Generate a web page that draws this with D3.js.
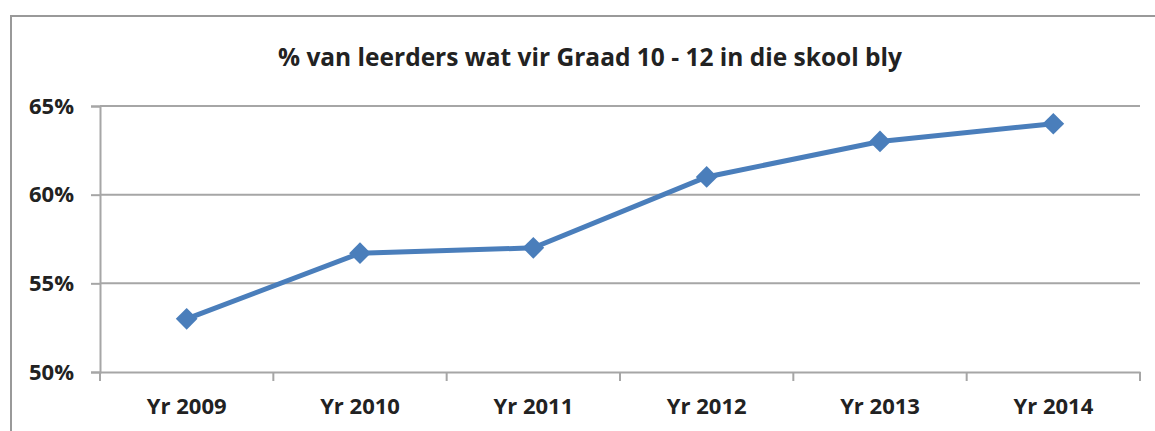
<!DOCTYPE html>
<html>
<head>
<meta charset="utf-8">
<script src="https://cdn.jsdelivr.net/npm/d3@7"></script>
<style>
body { margin:0; background:#fff; }
svg { display:block; font-family:"Open Sans", sans-serif; }
</style>
</head>
<body>
<div id="chart"></div>
<script>
var years = ['Yr 2009','Yr 2010','Yr 2011','Yr 2012','Yr 2013','Yr 2014']
var values = [53, 56.7, 57, 61, 63, 64]
var yTicks = [50, 55, 60, 65]
var title = '% van leerders wat vir Graad 10 - 12 in die skool bly'

var wd = 1155, ht = 431
var svg = d3.select('#chart').append('svg').attr('width',wd).attr('height',ht)

// chart frame
svg.append('rect').attr('x',11).attr('y',16).attr('width',1160).attr('height',440)
	.style('fill','none').style('stroke','#999').style('stroke-width',2)

var x = d3.scaleBand().domain(years).range([100,1140])
var y = d3.scaleLinear().domain([50,65]).range([372,106])

// gridlines
svg.append('g').selectAll('line').data(yTicks.slice(1)).join('line')
	.attr('x1',100).attr('x2',1140)
	.attr('y1',function(d){return y(d)}).attr('y2',function(d){return y(d)})
	.style('stroke','#a6a6a6').style('stroke-width',2)

var yAxis = svg.append('g').attr('transform','translate(100,0)')
	.call(d3.axisLeft(y).tickValues(yTicks).tickSize(9).tickPadding(17).tickFormat(function(d){return d+'%'}))
var xAxis = svg.append('g').attr('transform','translate(0,372)')
	.call(d3.axisBottom(x).tickSize(0).tickPadding(26))
// category boundary ticks
var bounds = years.map(function(d){return x(d)}).concat([x.range()[1]])
xAxis.selectAll('.bound').data(bounds).join('line').attr('class','bound')
	.attr('x1',function(d){return d}).attr('x2',function(d){return d})
	.attr('y1',0).attr('y2',9)

svg.selectAll('.domain').style('stroke','#a6a6a6').style('stroke-width',2)
svg.selectAll('.tick line, .bound').style('stroke','#a6a6a6').style('stroke-width',2)
svg.selectAll('.tick text').style('font-size','22px').style('font-weight','bold')
	.style('fill','#222').style('font-family','"Open Sans", sans-serif')

svg.append('text').text(title).attr('x',590).attr('y',66).attr('text-anchor','middle')
	.style('font-size','24.5px').style('font-weight','bold').style('fill','#222')

var line = d3.line()
	.x(function(d,i){return x(years[i]) + x.bandwidth()/2})
	.y(function(d){return y(d)})
svg.append('path').datum(values).attr('d',line)
	.style('fill','none').style('stroke','#4a7ebb').style('stroke-width',5)

svg.append('g').selectAll('path').data(values).join('path')
	.attr('transform',function(d,i){return 'translate('+(x(years[i]) + x.bandwidth()/2)+','+y(d)+')'})
	.attr('d',d3.symbol(d3.symbolDiamond2, 300))
	.style('fill','#4a7ebb')
</script>
</body>
</html>
